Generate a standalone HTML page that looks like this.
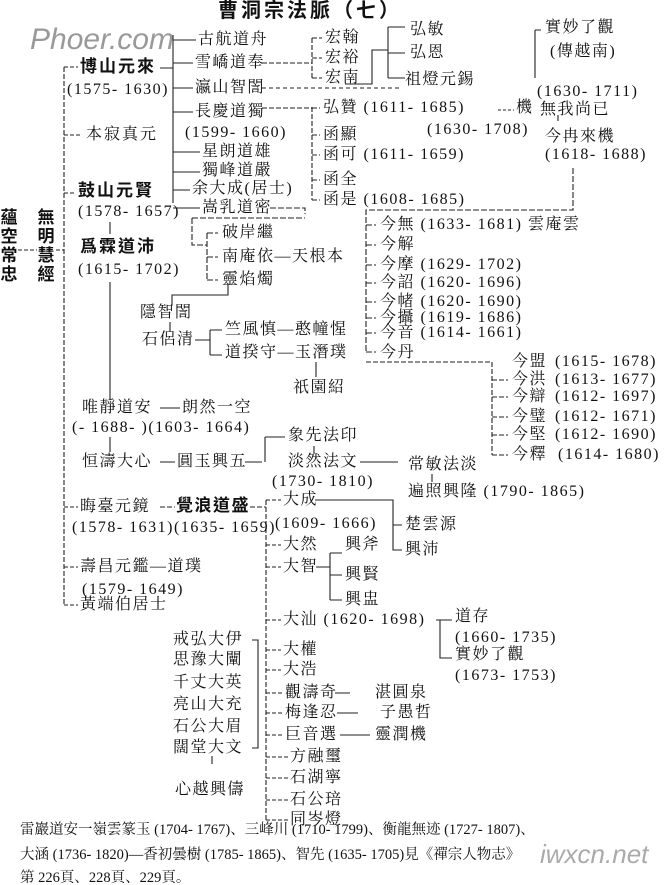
<!DOCTYPE html>
<html><head><meta charset="utf-8">
<style>
html,body{margin:0;padding:0;background:#fff;}
#c{position:relative;width:668px;height:885px;overflow:hidden;background:#fff;font-family:"Liberation Serif","Noto Serif CJK SC","Noto Sans CJK TC",serif;color:#111;}
.t{position:absolute;white-space:nowrap;font-size:16px;line-height:18px;letter-spacing:1.5px;}
.b{font-weight:bold;font-family:"Liberation Sans","Noto Sans CJK TC",sans-serif;font-size:17px;}
.v{position:absolute;font-weight:bold;font-family:"Liberation Sans","Noto Sans CJK TC",sans-serif;font-size:17px;line-height:19px;width:18px;text-align:center;}
.f{position:absolute;white-space:nowrap;font-size:14.5px;line-height:16px;}
svg{position:absolute;left:0;top:0;}
</style></head><body><div id="c">
<svg width="668" height="885" stroke="#222" stroke-width="1.1" fill="none">
<path d="M18 250H37 M56 250H64" stroke-dasharray="4 2"/>
<path d="M64 67V605" stroke-dasharray="5 2"/>
<path d="M64 67H78 M64 135H82 M64 193H76 M64 507H78 M64 567H78 M64 605H78" stroke-dasharray="4 2"/>
<path d="M110 222V234 M110 282V400 M110 437V452"/>
<path d="M160 68H173 M173 35V203 M173 40H196 M173 63H193 M173 88H193 M173 112H193 M173 152H200 M173 172H200 M173 190H190 M173 208H200" />
<path d="M262 63H312 M312 38V78 M312 38H322 M312 58H322 M312 78H322" stroke-dasharray="5 2"/>
<path d="M345 84H372V50H388 M388 27V78 M388 27H405 M388 53H405 M388 78H405"/>
<path d="M262 88H400" stroke-dasharray="4 3"/>
<path d="M262 108H312 M312 107V200 M312 108H320 M312 135H320 M312 155H320 M312 180H320 M312 200H320" stroke-dasharray="5 2"/>
<path d="M498 110H514" stroke-dasharray="3 2"/>
<path d="M535 30V78 M535 30H541"/>
<path d="M573 168V210H366V352 M366 225H376 M366 245H376 M366 265H376 M366 283H376 M366 302H376 M366 318H376 M366 333H376 M366 352H376" stroke-dasharray="6 2"/>
<path d="M366 362H492V455 M492 380H508 M492 397H508 M492 417H508 M492 435H508 M492 455H508" stroke-dasharray="5 2"/>
<path d="M558 115V121"/>
<path d="M270 208H305V214 M192 218H305 M192 218V245H207 M207 233V280 M207 233H218 M207 257H218 M207 280H218" stroke-dasharray="6 2"/>
<path d="M228 284V295H172V305"/>
<path d="M170 322V332 M195 340H210 M210 330V355 M210 330H222 M210 355H222 M316 362V377"/>
<path d="M160 408H180 M160 462H175 M245 462H262 M265 437V462 M265 437H285 M314 446V454 M360 462H398 M432 474V482"/>
<path d="M160 507H175 M250 507H266 M266 500V820" stroke-dasharray="5 2"/>
<path d="M266 500H281 M266 545H281 M266 567H281 M266 620H281 M266 650H281 M266 670H281 M266 693H283 M266 713H283 M266 735H283 M266 757H288 M266 778H288 M266 800H288 M266 820H288" stroke-dasharray="4 2"/>
<path d="M315 500H393V550H402 M393 525H402"/>
<path d="M316 567H330 M330 553V600 M330 553H342 M330 575H342 M330 600H342"/>
<path d="M436 620H440V658H452 M440 620H452"/>
<path d="M335 693H350 M337 713H358 M340 735H370"/>
<path d="M252 640H258V748H252 M212 756V764"/>
</svg>

<div class="t b" style="left:218px;top:2px;font-size:20px;letter-spacing:3px;">曹洞宗法脈（七）</div>
<div class="t" style="left:30px;top:24px;font-size:30px;line-height:32px;color:#999;font-style:italic;font-family:'Liberation Sans',sans-serif;letter-spacing:0;">Phoer.com</div>

<div class="v" style="left:0;top:208px;">蘊空常忠</div>
<div class="v" style="left:37px;top:208px;">無明慧經</div>

<div class="t b" style="left:80px;top:58px;letter-spacing:2px;">博山元來</div>
<div class="t" style="left:67px;top:81px;">(1575- 1630)</div>
<div class="t" style="left:86px;top:126px;letter-spacing:2px;">本寂真元</div>
<div class="t b" style="left:78px;top:182px;letter-spacing:2px;">鼓山元賢</div>
<div class="t" style="left:78px;top:203px;">(1578- 1657)</div>
<div class="t b" style="left:80px;top:238px;letter-spacing:2px;">爲霖道沛</div>
<div class="t" style="left:78px;top:261px;">(1615- 1702)</div>

<div class="t" style="left:198px;top:31px;">古航道舟</div>
<div class="t" style="left:195px;top:54px;">雪嶠道奉</div>
<div class="t" style="left:195px;top:79px;">瀛山智誾</div>
<div class="t" style="left:195px;top:103px;">長慶道獨</div>
<div class="t" style="left:185px;top:124px;">(1599- 1660)</div>
<div class="t" style="left:202px;top:143px;">星朗道雄</div>
<div class="t" style="left:202px;top:162px;">獨峰道嚴</div>
<div class="t" style="left:192px;top:180px;">余大成(居士)</div>
<div class="t" style="left:202px;top:199px;">嵩乳道密</div>

<div class="t" style="left:325px;top:29px;">宏翰</div>
<div class="t" style="left:325px;top:49px;">宏裕</div>
<div class="t" style="left:325px;top:69px;">宏南</div>
<div class="t" style="left:410px;top:21px;">弘敏</div>
<div class="t" style="left:410px;top:44px;">弘恩</div>
<div class="t" style="left:405px;top:71px;">祖燈元錫</div>

<div class="t" style="left:323px;top:99px;">弘贊 (1611- 1685)</div>
<div class="t" style="left:516px;top:99px;">機</div>
<div class="t" style="left:427px;top:121px;">(1630- 1708)</div>
<div class="t" style="left:323px;top:126px;">函顯</div>
<div class="t" style="left:323px;top:146px;">函可 (1611- 1659)</div>
<div class="t" style="left:323px;top:171px;">函全</div>
<div class="t" style="left:323px;top:191px;">函是 (1608- 1685)</div>

<div class="t" style="left:545px;top:19px;">實妙了觀</div>
<div class="t" style="left:550px;top:43px;">(傳越南)</div>
<div class="t" style="left:537px;top:83px;">(1630- 1711)</div>
<div class="t" style="left:540px;top:101px;">無我尚已</div>
<div class="t" style="left:545px;top:128px;">今冉來機</div>
<div class="t" style="left:545px;top:146px;">(1618- 1688)</div>

<div class="t" style="left:380px;top:216px;">今無 (1633- 1681) 雲庵雲</div>
<div class="t" style="left:380px;top:236px;">今解</div>
<div class="t" style="left:380px;top:256px;">今摩 (1629- 1702)</div>
<div class="t" style="left:380px;top:274px;">今詔 (1620- 1696)</div>
<div class="t" style="left:380px;top:293px;">今帾 (1620- 1690)</div>
<div class="t" style="left:380px;top:309px;">今攝 (1619- 1686)</div>
<div class="t" style="left:380px;top:324px;">今音 (1614- 1661)</div>
<div class="t" style="left:380px;top:344px;">今丹</div>

<div class="t" style="left:512px;top:353px;">今盟</div><div class="t" style="left:555px;top:353px;">(1615- 1678)</div>
<div class="t" style="left:512px;top:371px;">今洪</div><div class="t" style="left:555px;top:371px;">(1613- 1677)</div>
<div class="t" style="left:512px;top:388px;">今辯</div><div class="t" style="left:555px;top:388px;">(1612- 1697)</div>
<div class="t" style="left:512px;top:408px;">今璧</div><div class="t" style="left:555px;top:408px;">(1612- 1671)</div>
<div class="t" style="left:512px;top:426px;">今堅</div><div class="t" style="left:555px;top:426px;">(1612- 1690)</div>
<div class="t" style="left:512px;top:446px;">今釋</div><div class="t" style="left:558px;top:446px;">(1614- 1680)</div>

<div class="t" style="left:222px;top:224px;">破岸繼</div>
<div class="t" style="left:222px;top:248px;">南庵依—天根本</div>
<div class="t" style="left:222px;top:271px;">靈焰燭</div>
<div class="t" style="left:140px;top:304px;">隱智誾</div>
<div class="t" style="left:142px;top:331px;">石侶清</div>
<div class="t" style="left:225px;top:321px;">竺風慎—憨幢惺</div>
<div class="t" style="left:225px;top:344px;">道揆守—玉潛璞</div>
<div class="t" style="left:293px;top:379px;">祇園紹</div>

<div class="t" style="left:82px;top:399px;">唯靜道安</div>
<div class="t" style="left:182px;top:399px;">朗然一空</div>
<div class="t" style="left:72px;top:419px;">(- 1688- )(1603- 1664)</div>
<div class="t" style="left:82px;top:453px;">恒濤大心</div>
<div class="t" style="left:177px;top:453px;">圓玉興五</div>
<div class="t" style="left:288px;top:427px;">象先法印</div>
<div class="t" style="left:288px;top:453px;">淡然法文</div>
<div class="t" style="left:272px;top:473px;">(1730- 1810)</div>
<div class="t" style="left:408px;top:456px;">常敏法淡</div>
<div class="t" style="left:408px;top:483px;">遍照興隆 (1790- 1865)</div>

<div class="t" style="left:80px;top:498px;">晦臺元鏡</div>
<div class="t b" style="left:176px;top:497px;">覺浪道盛</div>
<div class="t" style="left:72px;top:519px;">(1578- 1631)(1635- 1659)</div>
<div class="t" style="left:80px;top:558px;">壽昌元鑑—道璞</div>
<div class="t" style="left:82px;top:581px;">(1579- 1649)</div>
<div class="t" style="left:80px;top:596px;">黃端伯居士</div>

<div class="t" style="left:283px;top:491px;">大成</div>
<div class="t" style="left:275px;top:515px;">(1609- 1666)</div>
<div class="t" style="left:405px;top:516px;">楚雲源</div>
<div class="t" style="left:405px;top:541px;">興沛</div>
<div class="t" style="left:283px;top:536px;">大然</div>
<div class="t" style="left:283px;top:558px;">大智</div>
<div class="t" style="left:345px;top:536px;">興斧</div>
<div class="t" style="left:345px;top:566px;">興賢</div>
<div class="t" style="left:345px;top:591px;">興盅</div>
<div class="t" style="left:283px;top:611px;">大汕 (1620- 1698)</div>
<div class="t" style="left:455px;top:608px;">道存</div>
<div class="t" style="left:455px;top:629px;">(1660- 1735)</div>
<div class="t" style="left:455px;top:646px;">實妙了觀</div>
<div class="t" style="left:455px;top:667px;">(1673- 1753)</div>
<div class="t" style="left:283px;top:641px;">大權</div>
<div class="t" style="left:283px;top:661px;">大浩</div>
<div class="t" style="left:285px;top:684px;">觀濤奇</div>
<div class="t" style="left:285px;top:704px;">梅逢忍</div>
<div class="t" style="left:285px;top:726px;">巨音選</div>
<div class="t" style="left:290px;top:748px;">方融璽</div>
<div class="t" style="left:290px;top:769px;">石湖寧</div>
<div class="t" style="left:290px;top:791px;">石公琣</div>
<div class="t" style="left:290px;top:811px;">同岑燈</div>
<div class="t" style="left:375px;top:684px;">湛圓泉</div>
<div class="t" style="left:380px;top:704px;">子愚哲</div>
<div class="t" style="left:375px;top:726px;">靈潤機</div>

<div class="t" style="left:173px;top:631px;">戒弘大伊</div>
<div class="t" style="left:173px;top:651px;">思豫大闡</div>
<div class="t" style="left:173px;top:674px;">千丈大英</div>
<div class="t" style="left:173px;top:696px;">亮山大充</div>
<div class="t" style="left:173px;top:718px;">石公大眉</div>
<div class="t" style="left:173px;top:739px;">闊堂大文</div>
<div class="t" style="left:175px;top:781px;">心越興儔</div>

<div class="f" style="left:20px;top:822px;">雷巖道安一嶺雲篆玉 (1704- 1767)、三峰川 (1710- 1799)、衡龍無迹 (1727- 1807)、</div>
<div class="f" style="left:20px;top:847px;">大涵 (1736- 1820)—香初曇樹 (1785- 1865)、智先 (1635- 1705)見《禪宗人物志》</div>
<div class="f" style="left:20px;top:870px;">第 226頁、228頁、229頁。</div>
<div class="t" style="left:540px;top:840px;font-size:26px;line-height:28px;color:#aaa;font-style:italic;font-family:'Liberation Sans',sans-serif;letter-spacing:0;">iwxcn.net</div>
</div></body></html>
